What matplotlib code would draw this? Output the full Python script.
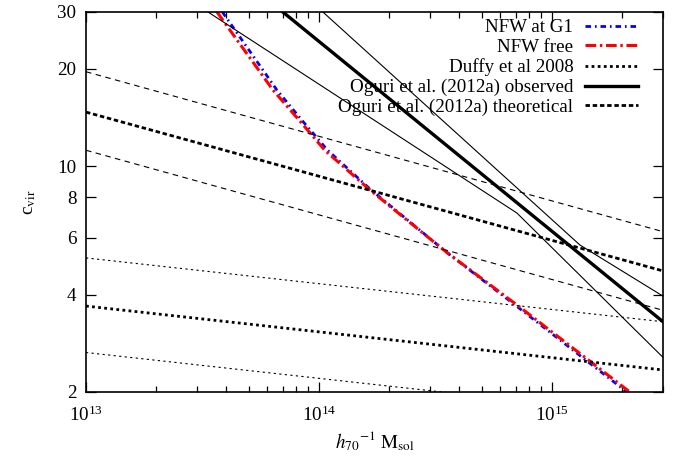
import matplotlib
matplotlib.use("Agg")
import matplotlib.pyplot as plt
import numpy as np

plt.rcParams['font.family'] = ['Liberation Serif', 'DejaVu Serif']
plt.rcParams['mathtext.fontset'] = 'stix'

# ---------------- data ----------------
# NFW curves (mass in h70^-1 Msol, concentration)
nfw_g1_mass = [3.85e13, 6.6e13, 8.5e13, 1.09e14, 1.66e14, 3.48e14, 7.15e14, 1.45e15, 2.1e15]
nfw_g1_c    = [30.0, 17.2, 13.8, 11.2, 8.49, 5.46, 3.66, 2.46, 2.0]
nfw_free_mass = [3.65e13, 6.35e13, 8.28e13, 1.06e14, 1.64e14, 3.48e14, 7.29e14, 1.49e15, 2.16e15]
nfw_free_c    = [30.0, 17.2, 13.8, 11.2, 8.49, 5.46, 3.66, 2.46, 2.0]

# straight relations sampled at the plot edges
edge_mass = [1e13, 3e15]
duffy_mid = [3.69, 2.34]
duffy_hi  = [5.2, 3.3]
duffy_lo  = [2.65, 1.68]
oguri_th_mid = [14.7, 4.74]
oguri_th_hi  = [19.6, 6.27]
oguri_th_lo  = [11.2, 3.58]

# Oguri observed relation and its envelope
oguri_obs_mass = [7.0e13, 3.0e15]
oguri_obs_c    = [30.0, 3.3]
oguri_obs_hi_mass = [1.04e14, 1.32e15, 3.0e15]
oguri_obs_hi_c    = [30.0, 5.70, 3.96]
oguri_obs_lo_mass = [3.34e13, 7.08e14, 3.0e15]
oguri_obs_lo_c    = [30.0, 7.16, 2.56]

yticks = [2, 4, 6, 8, 10, 20, 30]
xticks = [1e13, 1e14, 1e15]

# ---------------- figure ----------------
fig = plt.figure(figsize=(6.8, 4.59), dpi=100)
ax = fig.add_axes([86/680, 1-392/459, (663-86)/680, (392-12)/459])
ax.set_xscale('log')
ax.set_yscale('log')

thin = 0.8
thick = 2.0

l_blue, = ax.plot(nfw_g1_mass, nfw_g1_c, color='#0000ff', lw=2.0,
                  linestyle=(0, (2.0, 1.4, 0.6, 1.4)), label='NFW at G1')
l_red, = ax.plot(nfw_free_mass, nfw_free_c, color='#ff0000', lw=2.2,
                 linestyle=(0, (3.5, 1.2, 0.8, 1.2)), label='NFW free')

l_duffy, = ax.plot(edge_mass, duffy_mid, color='black', lw=thick,
                   linestyle=(0, (1, 1.2)), label='Duffy et al 2008')
ax.plot(edge_mass, duffy_hi, color='black', lw=thin, linestyle=(0, (2, 3)))
ax.plot(edge_mass, duffy_lo, color='black', lw=thin, linestyle=(0, (2, 3)))

l_obs, = ax.plot(oguri_obs_mass, oguri_obs_c, color='black', lw=2.4,
                 linestyle='-', label='Oguri et al. (2012a) observed')
ax.plot(oguri_obs_hi_mass, oguri_obs_hi_c, color='black', lw=thin)
ax.plot(oguri_obs_lo_mass, oguri_obs_lo_c, color='black', lw=thin)

l_th, = ax.plot(edge_mass, oguri_th_mid, color='black', lw=thick,
                linestyle=(0, (1.6, 1.0)), label='Oguri et al. (2012a) theoretical')
ax.plot(edge_mass, oguri_th_hi, color='black', lw=thin, linestyle=(0, (5, 4)))
ax.plot(edge_mass, oguri_th_lo, color='black', lw=thin, linestyle=(0, (5, 4)))

ax.set_xlim(1e13, 3e15)
ax.set_ylim(2, 30)

ax.set_yticks(yticks)
ax.set_yticklabels([str(t) for t in yticks])
ax.yaxis.set_minor_locator(matplotlib.ticker.NullLocator())
ax.set_xticks(xticks)
ax.xaxis.set_minor_locator(matplotlib.ticker.LogLocator(base=10, subs=np.arange(2, 10)))
ax.xaxis.set_minor_formatter(matplotlib.ticker.NullFormatter())

fs = 13.7
ax.tick_params(which='both', direction='in', top=True, right=True, labelsize=fs)
ax.tick_params(which='major', length=7, width=0.9)
ax.tick_params(which='minor', length=4, width=0.9)
ax.tick_params(axis='y', pad=7)
ax.tick_params(axis='x', pad=10)
for s in ax.spines.values():
    s.set_linewidth(1.2)

ax.set_xlabel(r'$h_{70}{}^{\mathrm{-1}}\ \mathrm{M_{sol}}$', fontsize=fs, labelpad=3)
ax.set_ylabel(r'c$_{\mathrm{vir}}$', fontsize=fs, labelpad=14)

leg = fig.legend(handles=[l_blue, l_red, l_duffy, l_obs, l_th],
                 loc='upper right', bbox_to_anchor=(638/680, 1-19/459),
                 frameon=False, markerfirst=False,
                 fontsize=fs, handlelength=2.8, handletextpad=0.6,
                 labelspacing=0.13, borderaxespad=0.0, borderpad=0.0)
for t in leg.get_texts():
    t.set_ha('right')

fig.savefig('out.png', dpi=100)
